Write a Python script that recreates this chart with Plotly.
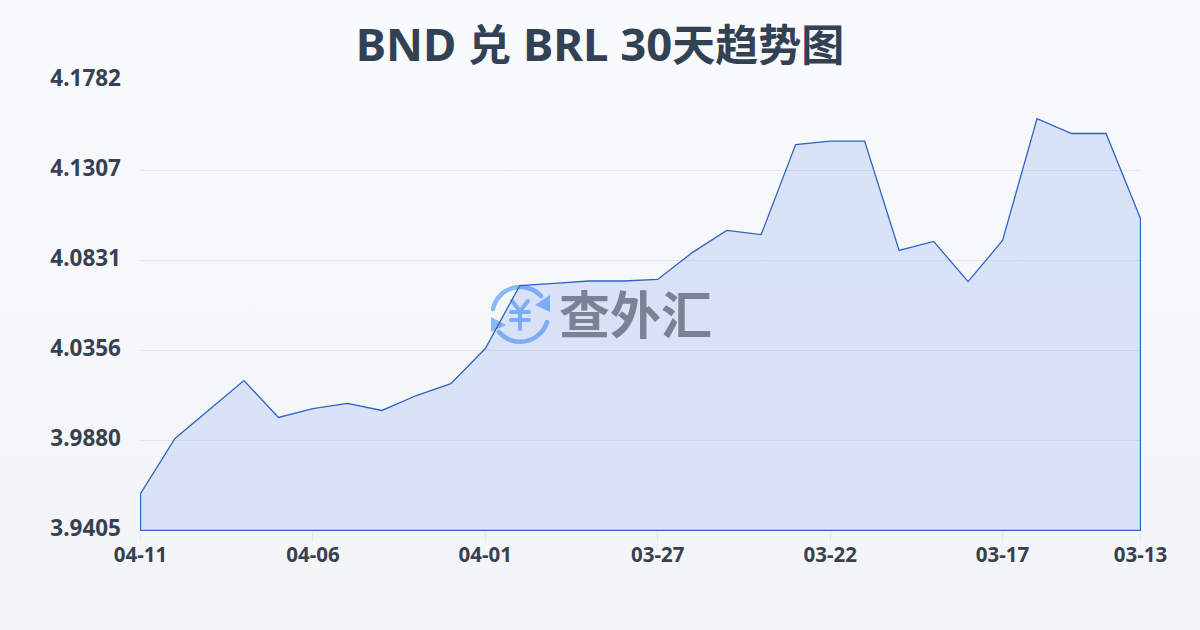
import base64
import plotly.graph_objects as go

dates = ["04-11","04-10","04-09","04-08","04-07","04-06","04-05","04-04","04-03","04-02",
         "04-01","03-31","03-30","03-29","03-28","03-27","03-26","03-25","03-24","03-23",
         "03-22","03-21","03-20","03-19","03-18","03-17","03-16","03-15","03-14","03-13"]
rates = [3.9600,3.9891,4.0044,4.0197,4.0002,4.0049,4.0076,4.0039,4.0118,4.0181,
         4.0366,4.0699,4.0710,4.0723,4.0723,4.0731,4.0873,4.0990,4.0968,4.1444,
         4.1462,4.1462,4.0884,4.0932,4.0720,4.0937,4.1581,4.1502,4.1502,4.1053]
y_ticks = [3.9405,3.9880,4.0356,4.0831,4.1307,4.1782]
y_labels = ["3.9405","3.9880","4.0356","4.0831","4.1307","4.1782"]
x_ticks = ["04-11","04-06","04-01","03-27","03-22","03-17","03-13"]
watermark = "查外汇"

FONT = "Noto Sans, Noto Sans CJK SC, sans-serif"
CJK = "Noto Sans CJK SC, sans-serif"
INK = "#374151"
# plot box is one pixel larger than the data span; data sits half a pixel in on each side
L, T, W, H = 140, 80, 1001, 451
dx = 0.5 * (len(dates) - 1) / 1000
dy = 0.5 * (y_ticks[-1] - y_ticks[0]) / 450

def latin(s):
    return f'<span style="font-family:Noto Sans;font-size:45.5px">{s}</span>'
def cjk(s):
    return f'<span style="font-family:Noto Sans CJK SC;font-size:43px">{s}</span>'
title_html = "<b>" + latin("BND ") + cjk("兑") + latin(" BRL 30") + cjk("天趋势图") + "</b>"

def svg_uri(s):
    return "data:image/svg+xml;base64," + base64.b64encode(s.encode("utf-8")).decode()

bg_svg = ('<svg xmlns="http://www.w3.org/2000/svg" width="1200" height="630">'
          '<defs><linearGradient id="g" x1="0" y1="0" x2="0" y2="1">'
          '<stop offset="0" stop-color="#f9fafb"/><stop offset="1" stop-color="#f3f4f6"/>'
          '</linearGradient></defs><rect width="1200" height="630" fill="url(#g)"/></svg>')

icon_svg = ('<svg xmlns="http://www.w3.org/2000/svg" viewBox="0 0 64 64" width="64" height="64">'
            '<g fill="none" stroke="#8ab8f8" stroke-linecap="round">'
            '<path stroke-width="4.5" d="M5 26 A28 28 0 0 1 53 13"/>'
            '<path stroke-width="4.5" d="M59 39 A28 28 0 0 1 11 49"/>'
            '<path stroke-width="4" d="M24 18 L32 28 L40 18 M23 29 H41 M23 37 H41 M32 28 V46"/>'
            '</g><path d="M62 12 L62 29 L47 22 Z" fill="#8ab8f8"/>'
            '<path d="M3 34 L3 49 L18 42 Z" fill="#8ab8f8"/></svg>')

fig = go.Figure()
fig.add_trace(go.Scatter(
    x=dates + [dates[-1], dates[0], dates[0]],
    y=rates + [y_ticks[0], y_ticks[0], rates[0]],
    mode="lines",
    fill="toself",
    fillgradient=dict(type="vertical",
                      colorscale=[[0, "rgba(37,99,235,0.13)"], [1, "rgba(37,99,235,0.15)"]]),
    line=dict(color="#2f62c8", width=1.3),
    hoverinfo="skip",
    showlegend=False,
    cliponaxis=False,
))

fig.update_layout(
    width=1200, height=630,
    margin=dict(l=L, r=1200 - L - W, t=T, b=630 - T - H),
    paper_bgcolor="#f6f7f9",
    plot_bgcolor="rgba(0,0,0,0)",
    font=dict(family=FONT, color=INK),
    title=dict(text=title_html, x=0.5, xref="container", xanchor="center", y=0.928, yanchor="middle",
               font=dict(size=44, color="#334155", family=FONT)),
    xaxis=dict(
        type="category", categoryorder="array", categoryarray=dates,
        range=[-dx, len(dates) - 1 + dx],
        tickmode="array", tickvals=x_ticks, ticktext=[f"<b>{t}</b>" for t in x_ticks],
        tickfont=dict(size=20.5, color=INK, family=FONT),
        ticks="outside", ticklen=10, tickcolor="#e5e7eb", tickwidth=1,
        ticklabelstandoff=-5,
        showgrid=False, zeroline=False, showline=False,
    ),
    yaxis=dict(
        range=[y_ticks[0] - dy, y_ticks[-1] + dy],
        tickmode="array", tickvals=y_ticks, ticktext=[f"<b>{t}</b>" for t in y_labels],
        tickfont=dict(size=22.5, color=INK, family=FONT),
        ticks="", ticklabelstandoff=18, ticklabelshift=-2,
        showgrid=True, gridcolor="#e5e7eb", gridwidth=1, zeroline=False, showline=False,
    ),
    images=[
        dict(source=svg_uri(bg_svg), xref="paper", yref="paper", x=-L/W, y=1+T/H,
             sizex=1200/W, sizey=630/H, xanchor="left", yanchor="top",
             sizing="stretch", layer="below"),
        dict(source=svg_uri(icon_svg), xref="paper", yref="paper", x=(488-L)/W, y=(T+H-283)/H,
             sizex=64/W, sizey=64/H, xanchor="left", yanchor="top",
             sizing="stretch", layer="below"),
    ],
    annotations=[dict(text=f"<b>{watermark}</b>", xref="paper", yref="paper",
                      x=(635.5-L)/W, y=(T+H-312)/H, xanchor="center", yanchor="middle",
                      showarrow=False,
                      font=dict(size=51, color="#7a8394", family=CJK))],
)

fig.write_html("out.html", config=dict(displayModeBar=False),
               post_script="document.body.style.margin='0';document.body.style.overflow='hidden';window.dispatchEvent(new Event('resize'));")
